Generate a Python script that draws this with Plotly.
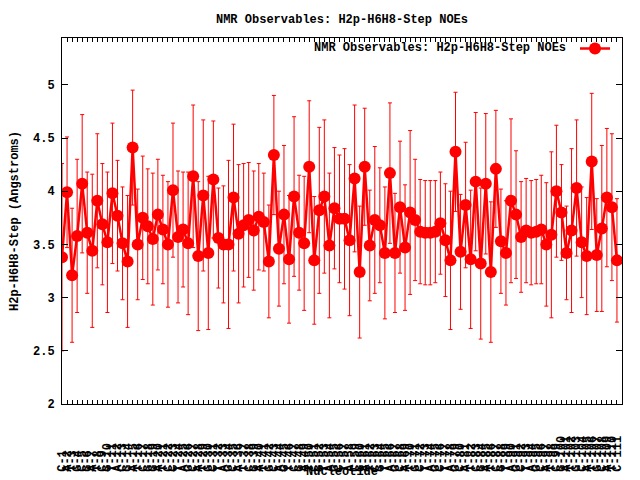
import plotly.graph_objects as go

# ---- data ----
nucleotide = list(range(1, 112))
bases = "CATGCGATCGTACGATCGGATCCTAGCATGCTAGCATCGATGCAGTCGATCGTAGCTACGATCGTAGCATGCTAGCTAGCATCGATCGTAGCTAGCATCGATGCATGCATCGATCGATCG"

noe = [3.38, 3.99, 3.21, 3.58, 4.07, 3.61, 3.44, 3.91, 3.69, 3.52,
       3.98, 3.77, 3.51, 3.34, 4.41, 3.50, 3.75, 3.67, 3.55, 3.78,
       3.64, 3.50, 4.01, 3.57, 3.64, 3.51, 4.14, 3.39, 3.96, 3.42,
       4.11, 3.56, 3.50, 3.50, 3.94, 3.60, 3.68, 3.73, 3.63, 3.76,
       3.71, 3.34, 4.34, 3.46, 3.78, 3.36, 3.95, 3.61, 3.51, 4.23,
       3.35, 3.82, 3.95, 3.49, 3.84, 3.74, 3.74, 3.54, 4.12, 3.24,
       4.23, 3.49, 3.73, 3.68, 3.42, 4.17, 3.42, 3.85, 3.47, 3.80,
       3.73, 3.62, 3.61, 3.61, 3.62, 3.70, 3.54, 3.35, 4.37, 3.43,
       3.87, 3.36, 4.09, 3.32, 4.07, 3.24, 4.21, 3.53, 3.42, 3.91,
       3.78, 3.57, 3.63, 3.61, 3.62, 3.64, 3.50, 3.59, 4.00, 3.80,
       3.42, 3.63, 4.03, 3.52, 3.39, 4.28, 3.40, 3.65, 3.94, 3.85,
       3.35]

err = [0.88, 0.52, 0.63, 0.72, 0.65, 0.57, 0.72, 0.63, 0.57, 0.66,
       0.66, 0.52, 0.53, 0.62, 0.54, 0.52, 0.58, 0.54, 0.62, 0.52,
       0.51, 0.59, 0.63, 0.62, 0.54, 0.67, 0.67, 0.70, 0.71, 0.72,
       0.55, 0.47, 0.55, 0.79, 0.69, 0.65, 0.58, 0.54, 0.56, 0.50,
       0.46, 0.53, 0.56, 0.54, 0.65, 0.60, 0.75, 0.54, 0.63, 0.62,
       0.60, 0.78, 0.72, 0.68, 0.57, 0.60, 0.66, 0.71, 0.69, 0.62,
       0.55, 0.52, 0.69, 0.54, 0.62, 0.66, 0.56, 0.62, 0.59, 0.77,
       0.57, 0.49, 0.49, 0.49, 0.48, 0.48, 0.53, 0.65, 0.56, 0.54,
       0.59, 0.65, 0.65, 0.71, 0.66, 0.66, 0.55, 0.49, 0.49, 0.77,
       0.60, 0.52, 0.49, 0.49, 0.49, 0.51, 0.58, 0.78, 0.62, 0.45,
       0.44, 0.77, 0.64, 0.52, 0.55, 0.64, 0.53, 0.78, 0.65, 0.69,
       0.58]

y_ticks = [2, 2.5, 3, 3.5, 4, 4.5, 5]

title_text = "NMR Observables: H2p-H6H8-Step NOEs"
series_name = "NMR Observables: H2p-H6H8-Step NOEs"
x_title = "Nucleotide"
y_title = "H2p-H6H8-Step (Angstroms)"

NBSP = "\u00a0"
tick_labels = []
for b, n in zip(bases, nucleotide):
    s = f"{b}-{n}"
    tick_labels.append(s + NBSP * (5 - len(s)))

FONT = "Liberation Mono"
font = dict(family=FONT, size=12, color="black", weight="bold")

# page body has an 8px margin: figure is drawn at (8, 8) in the window
OFF = 8
W, H = 640 - OFF, 480 - OFF
PL, PR, PT, PB = 62, 622, 38, 404   # plot-area edges in window pixels
PW, PH = PR - PL, PB - PT

fig = go.Figure()
fig.add_trace(go.Scatter(
    x=nucleotide, y=noe, mode="lines+markers",
    name=" ",
    line=dict(color="#ff0000", width=2.5),
    marker=dict(color="#ff0000", size=12),
    error_y=dict(type="data", array=err, visible=True, color="#ff0000",
                 thickness=1, width=2),
    showlegend=True,
))

fig.update_layout(
    width=W, height=H,
    margin=dict(l=PL - OFF, r=640 - PR, t=PT - OFF, b=480 - PB,
                autoexpand=False),
    paper_bgcolor="white", plot_bgcolor="white",
    font=font,
    title=dict(text=title_text, x=0.5, xref="paper", y=1 - (19 - OFF) / H,
               yref="container", xanchor="center", yanchor="middle",
               font=font),
    showlegend=True,
    legend=dict(x=1 + 6 / PW, xanchor="right", y=1 + 4 / PH, yanchor="top",
                bgcolor="rgba(0,0,0,0)", font=font, borderwidth=0),
    annotations=[
        dict(text=series_name, x=(568 - PL) / PW, xref="paper",
             xanchor="right", y=(PB - 48) / PH, yref="paper",
             yanchor="middle", showarrow=False, font=font),
        dict(text=x_title, x=0.5, xref="paper", xanchor="center",
             y=(PB - 472) / PH, yref="paper", yanchor="middle",
             showarrow=False, font=font),
    ],
)

fig.update_xaxes(
    range=[1, 112], tickmode="array", tickvals=nucleotide, ticktext=tick_labels,
    tickangle=-90, ticks="inside", ticklen=4, tickcolor="black", tickwidth=1,
    showline=True, linecolor="black", linewidth=1, mirror="ticks",
    showgrid=False, zeroline=False, tickfont=font, ticklabelstandoff=26,
    automargin=False,
)
fig.update_yaxes(
    range=[2, 5.44], tickmode="array", tickvals=y_ticks,
    ticks="inside", ticklen=6, tickcolor="black", tickwidth=1,
    showline=True, linecolor="black", linewidth=1, mirror="ticks",
    showgrid=False, zeroline=False, tickfont=font, ticklabelstandoff=4,
    automargin=False,
    title=dict(text=y_title, font=font, standoff=12),
)

fig.write_html("out.html")
